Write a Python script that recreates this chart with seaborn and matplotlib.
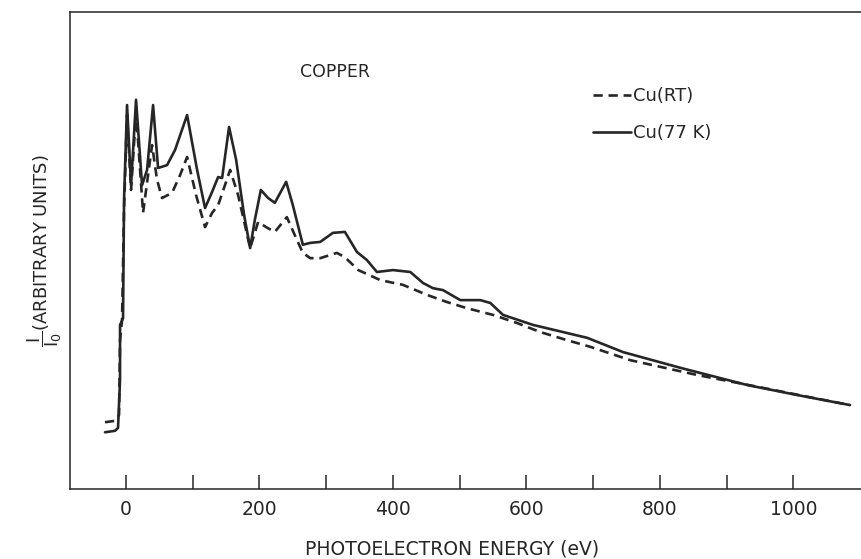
import matplotlib
matplotlib.use("Agg")
import matplotlib.pyplot as plt
import seaborn as sns
import pandas as pd
from matplotlib.lines import Line2D

# ── data (eV, arbitrary units) ──
energy_77k = [-31.5, -16.5, -12, -9, -9, -4.5, -3, 1.5, 7.5, 15, 24, 31.5, 40.5, 48,
              61.5, 73.5, 91.5, 106.5, 118.4, 129, 138, 144, 154.4, 165, 177, 186,
              193, 202, 213, 223, 240, 250, 265, 276, 291, 310, 328, 346, 361, 376,
              400, 426, 445, 460, 475, 501, 531, 546, 565, 610, 655, 691, 745, 831,
              931, 1006, 1085]
inten_77k = [11.9, 12.2, 12.8, 22.9, 34.4, 35.8, 60.6, 80.5, 63.7, 81.6, 63.7, 66.9,
             80.5, 67.3, 67.9, 71.1, 78.4, 66.9, 58.9, 62.3, 65.4, 65.2, 75.9, 69.0,
             57.4, 50.5, 56.4, 62.7, 61.0, 60.0, 64.4, 59.5, 51.2, 51.6, 51.8, 53.7,
             53.9, 49.7, 48.0, 45.5, 45.9, 45.5, 43.2, 42.1, 41.7, 39.6, 39.6, 39.0,
             36.5, 34.4, 32.9, 31.7, 28.7, 25.4, 21.8, 19.7, 17.6]

energy_rt = [-31.5, -16.5, -10.5, -9, -6, -3, 1.5, 7.5, 15, 25.5, 33, 39, 46.5, 54,
             69, 81, 91.5, 105, 118.4, 129, 138, 156, 168, 186, 198, 210, 223, 241,
             253, 265, 276, 291, 316, 328, 348, 381, 415, 451, 481, 511, 550, 586,
             621, 661, 696, 756, 856, 955, 1030, 1085]
inten_rt = [14.0, 14.3, 15.5, 31.2, 35.4, 58.5, 78.4, 62.7, 79.0, 57.9, 65.8, 72.1,
            64.8, 61.0, 62.1, 65.8, 69.6, 61.6, 54.9, 57.9, 59.5, 66.9, 61.6, 50.5,
            56.0, 54.9, 53.9, 57.0, 53.2, 49.5, 48.4, 48.4, 49.5, 48.6, 45.9, 43.8,
            42.8, 40.7, 39.2, 37.9, 36.5, 34.8, 32.9, 31.2, 29.8, 27.0, 23.9, 21.2,
            19.1, 17.6]

xticks = [0, 200, 400, 600, 800, 1000]
xticks_minor = [100, 300, 500, 700, 900]

df_77k = pd.DataFrame({"energy": energy_77k, "intensity": inten_77k})
df_rt = pd.DataFrame({"energy": energy_rt, "intensity": inten_rt})

# ── style ──
sns.set_theme(style="white")
plt.rcParams["font.family"] = ["DejaVu Sans"]
plt.rcParams["mathtext.fontset"] = "dejavusans"
INK = "#262626"
DASH = (0, (3.5, 2.2))

fig = plt.figure(figsize=(8.62, 5.59), dpi=100)
ax = fig.add_axes([0.0812, 0.1252, 0.9188, 0.8533])

sns.lineplot(data=df_rt, x="energy", y="intensity", ax=ax, sort=False,
             estimator=None, color=INK, lw=1.9, linestyle=DASH)
sns.lineplot(data=df_77k, x="energy", y="intensity", ax=ax, sort=False,
             estimator=None, color=INK, lw=1.9)

ax.set_xlim(-84, 1103)
ax.set_ylim(0, 100)

# frame on left, bottom, top only
for side in ["left", "bottom", "top"]:
    ax.spines[side].set_color(INK)
    ax.spines[side].set_linewidth(1.1)
ax.spines["right"].set_visible(False)

ax.set_xticks(xticks)
ax.set_xticks(xticks_minor, minor=True)
ax.tick_params(axis="x", which="both", direction="in", length=10, width=1.1,
               color=INK, bottom=True, top=False, pad=8, labelsize=13.5,
               labelcolor=INK)
ax.set_yticks([])

ax.set_xlabel("PHOTOELECTRON ENERGY (eV)", fontsize=13.5, color=INK)
ax.xaxis.set_label_coords(0.482, -0.105)
ax.set_ylabel(r"$\dfrac{\mathregular{I}}{\mathregular{I_0}}$(ARBITRARY UNITS)",
              fontsize=13, color=INK, labelpad=4)

ax.text(0.335, 0.874, "COPPER", transform=ax.transAxes, fontsize=12.5,
        color=INK, ha="center", va="center")

handles = [
    Line2D([], [], color=INK, lw=1.9, linestyle=DASH),
    Line2D([], [], color=INK, lw=1.9),
]
ax.legend(handles, ["Cu(RT)", "Cu(77 K)"], loc="upper left",
          bbox_to_anchor=(0.66, 0.842), frameon=False, fontsize=13,
          handlelength=2.1, handletextpad=0.15, labelspacing=1.05,
          borderpad=0, borderaxespad=0, labelcolor=INK)

fig.savefig("out.png", dpi=100, facecolor="white")
